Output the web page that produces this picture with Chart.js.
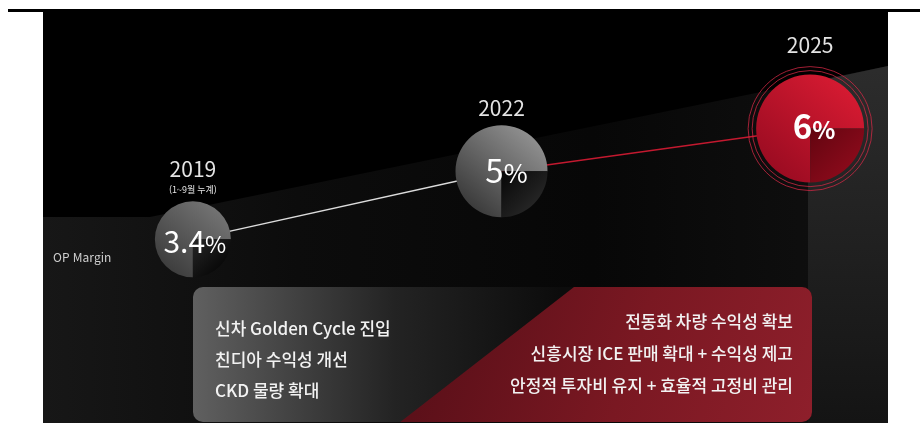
<!DOCTYPE html>
<html lang="ko">
<head>
<meta charset="utf-8">
<title>OP Margin</title>
<script src="https://cdn.jsdelivr.net/npm/chart.js@4.4.1/dist/chart.umd.min.js"></script>
<style>
  html, body { margin: 0; padding: 0; background: #fff; }
  canvas { display: block; }
</style>
</head>
<body>
<canvas id="marginChart" width="920" height="423"></canvas>
<script>
// ========================
// DATOS
// ========================
const years = [2019, 2022, 2025];
const opMargins = [3.4, 5, 6];
const yearNotes = ['(1~9월 누계)', '', ''];
const axisTitle = 'OP Margin';
const pastDrivers = ['신차 Golden Cycle 진입', '친디아 수익성 개선', 'CKD 물량 확대'];
const futureDrivers = ['전동화 차량 수익성 확보', '신흥시장 ICE 판매 확대 + 수익성 제고', '안정적 투자비 유지 + 효율적 고정비 관리'];

const FONT = '"Noto Sans CJK KR", "Noto Sans", sans-serif';

// bubble look, one entry per point
const bubbleRadius = [38, 46, 54];
const labelGap = [32, 17, 30];
const bubbleColors = [
  { hi: '#727272', lo: '#3e3e3e', cutIn: '#262626', cutOut: '#0a0a0a' },
  { hi: '#8e8e8e', lo: '#3c3c3c', cutIn: '#060606', cutOut: '#242424' },
  { hi: '#d41a31', lo: '#9c0c22', cutIn: '#620510', cutOut: '#880a1a' }
];
const pctFonts = [
  { num: 'normal 30px', pct: 'normal 23px', dx: 2, dy: 14 },
  { num: 'normal 33px', pct: 'normal 26px', dx: 5, dy: 12 },
  { num: 'bold 33px', pct: 'bold 24px', dx: 4, dy: 10 }
];

// ========================
// FONDO
// ========================
const backdrop = {
  id: 'backdrop',
  beforeDraw(chart) {
    const ctx = chart.ctx;
    ctx.save();
    ctx.fillStyle = '#fff';
    ctx.fillRect(0, 0, chart.width, chart.height);

    ctx.fillStyle = '#000';
    ctx.fillRect(8, 9, 912, 3);
    ctx.fillRect(43, 10, 845, 413);

    // floor band
    ctx.beginPath();
    ctx.moveTo(43, 217); ctx.lineTo(150, 217); ctx.lineTo(888, 66);
    ctx.lineTo(888, 423); ctx.lineTo(43, 423); ctx.closePath();
    let g = ctx.createLinearGradient(43, 0, 888, 0);
    g.addColorStop(0, '#171717'); g.addColorStop(0.3, '#0c0c0c');
    g.addColorStop(0.65, '#070707'); g.addColorStop(1, '#111111');
    ctx.fillStyle = g; ctx.fill();

    // right wall
    ctx.beginPath();
    ctx.moveTo(808, 83); ctx.lineTo(888, 66); ctx.lineTo(888, 423); ctx.lineTo(808, 423); ctx.closePath();
    g = ctx.createLinearGradient(0, 70, 0, 423);
    g.addColorStop(0, '#2c2c2c'); g.addColorStop(1, '#141414');
    ctx.fillStyle = g; ctx.fill();

    // driver box
    ctx.beginPath();
    ctx.roundRect(193, 287, 619, 135, 10);
    g = ctx.createLinearGradient(193, 0, 560, 0);
    g.addColorStop(0, '#606060'); g.addColorStop(0.55, '#232323'); g.addColorStop(1, '#0c0c0c');
    ctx.fillStyle = g; ctx.fill();
    ctx.clip();
    ctx.beginPath();
    ctx.moveTo(399, 423); ctx.lineTo(574, 287); ctx.lineTo(812, 287); ctx.lineTo(812, 423); ctx.closePath();
    g = ctx.createLinearGradient(450, 300, 812, 420);
    g.addColorStop(0, '#5c1019'); g.addColorStop(0.5, '#7a1822'); g.addColorStop(1, '#8e1f2b');
    ctx.fillStyle = g; ctx.fill();
    ctx.restore();
  },
  afterDraw(chart) {
    const ctx = chart.ctx;
    ctx.save();
    ctx.fillStyle = '#f2f2f2';
    ctx.font = '500 17px ' + FONT;
    ctx.textBaseline = 'middle';
    ctx.textAlign = 'left';
    pastDrivers.forEach((t, i) => ctx.fillText(t, 215, 329 + i * 31));
    ctx.textAlign = 'right';
    futureDrivers.forEach((t, i) => ctx.fillText(t, 793, 322 + i * 32));

    ctx.fillStyle = '#cfcfcf';
    ctx.font = '12px ' + FONT;
    ctx.textAlign = 'left';
    ctx.fillText(axisTitle, 53, 257);
    ctx.restore();
  }
};

// ========================
// BURBUJAS
// ========================
const bubbles = {
  id: 'bubbles',
  afterDatasetsDraw(chart) {
    const ctx = chart.ctx;
    const meta = chart.getDatasetMeta(0);
    meta.data.forEach((pt, i) => {
      const x = pt.x, y = pt.y, r = bubbleRadius[i], c = bubbleColors[i];
      ctx.save();

      if (i === meta.data.length - 1) {
        ctx.strokeStyle = 'rgba(214, 40, 70, 0.75)';
        ctx.lineWidth = 1;
        [r + 4, r + 8].forEach(rr => {
          ctx.beginPath(); ctx.arc(x, y, rr, 0, Math.PI * 2); ctx.stroke();
        });
      }

      let g = ctx.createLinearGradient(x + r * 0.7, y - r * 0.7, x - r * 0.6, y + r * 0.8);
      g.addColorStop(0, c.hi); g.addColorStop(1, c.lo);
      ctx.beginPath(); ctx.moveTo(x, y);
      ctx.arc(x, y, r, Math.PI / 2, Math.PI * 2);
      ctx.closePath();
      ctx.fillStyle = g; ctx.fill();

      g = ctx.createLinearGradient(x, y, x + r * 0.7, y + r * 0.7);
      g.addColorStop(0, c.cutIn); g.addColorStop(1, c.cutOut);
      ctx.beginPath(); ctx.moveTo(x, y);
      ctx.arc(x, y, r, 0, Math.PI / 2);
      ctx.closePath();
      ctx.fillStyle = g; ctx.fill();

      // value text
      const f = pctFonts[i];
      const num = String(opMargins[i]);
      ctx.font = f.num + ' ' + FONT;
      const wNum = ctx.measureText(num).width;
      ctx.font = f.pct + ' ' + FONT;
      const wPct = ctx.measureText('%').width;
      const left = x + f.dx - (wNum + wPct) / 2;
      ctx.fillStyle = '#fff';
      ctx.textBaseline = 'alphabetic';
      ctx.textAlign = 'left';
      ctx.font = f.num + ' ' + FONT;
      ctx.fillText(num, left, y + f.dy);
      ctx.font = f.pct + ' ' + FONT;
      ctx.fillText('%', left + wNum, y + f.dy);

      // year label
      ctx.textAlign = 'center';
      ctx.textBaseline = 'middle';
      ctx.fillStyle = '#e4e4e4';
      ctx.font = '21px ' + FONT;
      const yearY = y - r - labelGap[i];
      ctx.fillText(String(years[i]), x, yearY);
      if (yearNotes[i]) {
        ctx.font = '9px ' + FONT;
        ctx.fillText(yearNotes[i], x, yearY + 20);
      }
      ctx.restore();
    });
  }
};

// ========================
// GRAFICO
// ========================
new Chart(document.getElementById('marginChart'), {
  type: 'line',
  data: {
    datasets: [{
      data: years.map((yr, i) => ({ x: yr, y: opMargins[i] })),
      borderColor: '#dcdcdc',
      borderWidth: 1.5,
      pointRadius: 0,
      segment: {
        borderColor: c => c.p0DataIndex === 0 ? '#dcdcdc' : '#c3192f'
      }
    }]
  },
  options: {
    responsive: false,
    animation: false,
    layout: { padding: { left: 90, right: 7, top: 86, bottom: 124 } },
    scales: {
      x: { type: 'linear', min: 2018, max: 2026, display: false },
      y: { min: 2, max: 7, display: false }
    },
    plugins: { legend: { display: false }, tooltip: { enabled: false } }
  },
  plugins: [backdrop, bubbles]
});
</script>
</body>
</html>
